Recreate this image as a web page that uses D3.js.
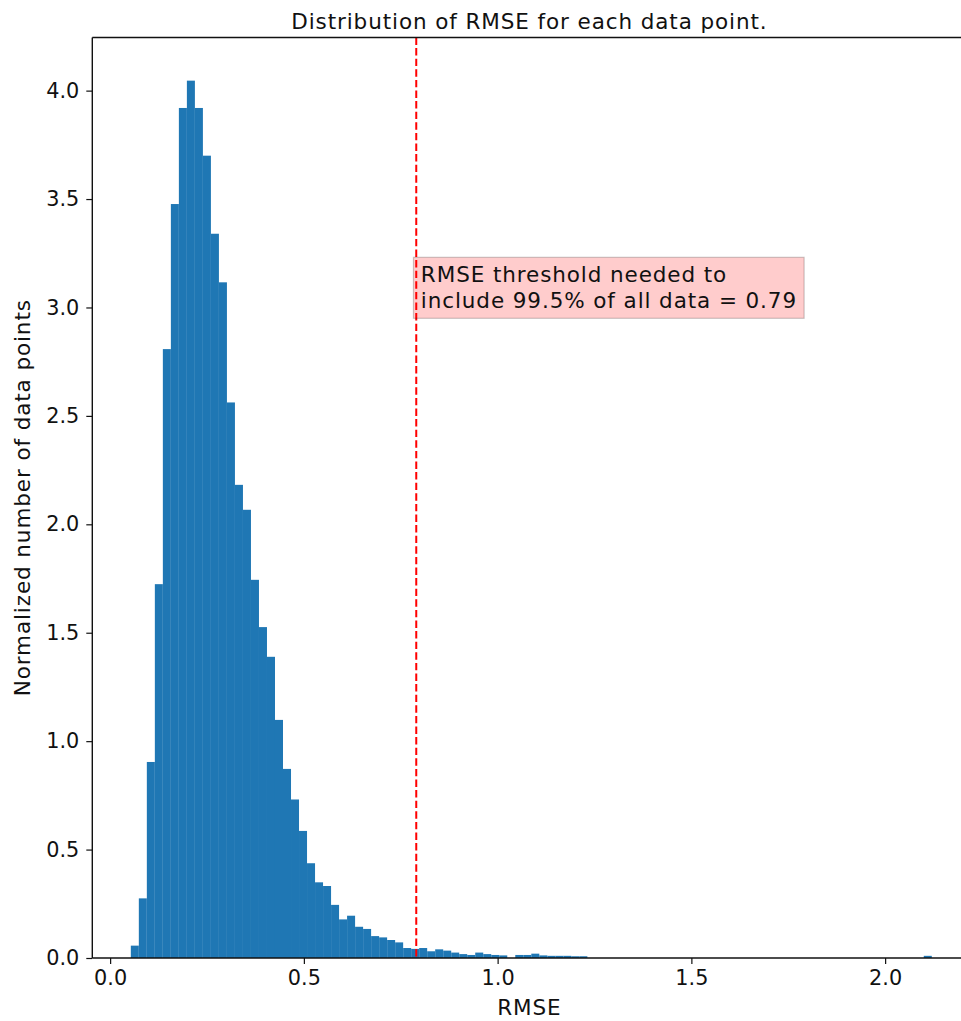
<!DOCTYPE html>
<html>
<head>
<meta charset="utf-8">
<script src="https://cdn.jsdelivr.net/npm/d3@7"></script>
<style>
  html, body { margin: 0; padding: 0; background: #fff; }
  svg { display: block; font-family: "DejaVu Sans", sans-serif; }
</style>
</head>
<body>
<svg id="chart" width="961" height="1021"></svg>
<script>
// Histogram of per-point RMSE (density-normalised), 100 equal-width bins
const binStart = 0.0534;
const binWidth = 0.02067;
const density = [
  0.057, 0.275, 0.904, 1.724, 2.808, 3.477, 3.920, 4.046, 3.920, 3.700,
  3.340, 3.116, 2.562, 2.182, 2.067, 1.744, 1.526, 1.389, 1.098, 0.872,
  0.731, 0.586, 0.437, 0.349, 0.332, 0.245, 0.178, 0.195, 0.144, 0.134,
  0.101, 0.095, 0.083, 0.072, 0.046, 0.042, 0.046, 0.031, 0.040, 0.034,
  0.025, 0.018, 0.014, 0.025, 0.018, 0.014, 0.012, 0.000, 0.014, 0.014,
  0.020, 0.012, 0.010, 0.010, 0.010, 0.008, 0.008, 0, 0, 0,
  0, 0, 0, 0, 0, 0, 0, 0, 0, 0,
  0, 0, 0, 0, 0, 0, 0, 0, 0, 0,
  0, 0, 0, 0, 0, 0, 0, 0, 0, 0,
  0, 0, 0, 0, 0, 0, 0, 0, 0, 0.010
];
const xTicks = [0.0, 0.5, 1.0, 1.5, 2.0];
const yTicks = [0.0, 0.5, 1.0, 1.5, 2.0, 2.5, 3.0, 3.5, 4.0];
const threshold = 0.79;
const noteLines = ["RMSE threshold needed to", "include 99.5% of all data = 0.79"];
const titleText = "Distribution of RMSE for each data point.";
const xLabelText = "RMSE";
const yLabelText = "Normalized number of data points";

const bins = density.map((v, i) => ({
  x0: binStart + i * binWidth,
  x1: binStart + (i + 1) * binWidth,
  value: v
}));

const svg = d3.select("#chart");
const plot = { left: 92.3, top: 37.5, right: 966.5, bottom: 958 };
const tickFont = 20.8;
const labelFont = 21.5;
const labelSpacing = "0.9px";
const ink = "#111";

const x = d3.scaleLinear().domain([-0.046, 2.21]).range([plot.left, plot.right]);
const y = d3.scaleLinear().domain([0, 4.245]).range([plot.bottom, plot.top]);

// clip marks to the plotting area
svg.append("clipPath").attr("id", "plotClip")
  .append("rect")
  .attr("x", plot.left).attr("y", plot.top)
  .attr("width", plot.right - plot.left).attr("height", plot.bottom - plot.top);

const marks = svg.append("g").attr("clip-path", "url(#plotClip)");

// histogram bars
marks.selectAll("rect.bar")
  .data(bins.filter(d => d.value > 0))
  .join("rect")
  .attr("class", "bar")
  .attr("x", d => x(d.x0))
  .attr("width", d => x(d.x1) - x(d.x0))
  .attr("y", d => y(d.value))
  .attr("height", d => y(0) - y(d.value))
  .attr("fill", "#1f77b4");

// threshold marker
marks.append("line")
  .attr("x1", x(threshold)).attr("x2", x(threshold))
  .attr("y1", plot.top).attr("y2", plot.bottom)
  .attr("stroke", "#ff0000")
  .attr("stroke-width", 2)
  .attr("stroke-dasharray", "7.4,3.2");

// axes
const xAxis = d3.axisBottom(x).tickValues(xTicks).tickFormat(d3.format(".1f"))
  .tickSize(6).tickPadding(6);
const yAxis = d3.axisLeft(y).tickValues(yTicks).tickFormat(d3.format(".1f"))
  .tickSize(6).tickPadding(7);

const gx = svg.append("g").attr("transform", `translate(0,${plot.bottom})`).call(xAxis);
const gy = svg.append("g").attr("transform", `translate(${plot.left},0)`).call(yAxis);
[gx, gy].forEach(g => {
  g.select(".domain").remove();
  g.selectAll(".tick line").attr("stroke", ink).attr("stroke-width", 1.2);
  g.selectAll(".tick text")
    .attr("fill", ink)
    .style("font-size", tickFont + "px")
    .style("font-family", "DejaVu Sans");
});

// spines (right one lies beyond the canvas edge)
const spine = svg.append("g").attr("stroke", ink).attr("stroke-width", 1.4).attr("fill", "none");
spine.append("line").attr("x1", plot.left).attr("x2", plot.left).attr("y1", plot.top).attr("y2", plot.bottom);
spine.append("line").attr("x1", plot.left).attr("x2", plot.right).attr("y1", plot.bottom).attr("y2", plot.bottom);
spine.append("line").attr("x1", plot.left).attr("x2", plot.right).attr("y1", plot.top).attr("y2", plot.top);
spine.append("line").attr("x1", plot.right).attr("x2", plot.right).attr("y1", plot.top).attr("y2", plot.bottom);

// annotation with translucent red box
const note = svg.append("g");
const noteText = note.append("text")
  .attr("x", x(threshold) + 4.6)
  .attr("y", 282.3)
  .attr("fill", ink)
  .style("font-size", labelFont + "px")
  .style("letter-spacing", labelSpacing);
noteText.selectAll("tspan")
  .data(noteLines)
  .join("tspan")
  .attr("x", x(threshold) + 4.6)
  .attr("dy", (d, i) => i === 0 ? 0 : 26)
  .text(d => d);
const bb = noteText.node().getBBox();
note.insert("rect", "text")
  .attr("x", bb.x - 7.4)
  .attr("y", bb.y - 5.0)
  .attr("width", bb.width + 14.5)
  .attr("height", bb.height + 10)
  .attr("fill", "rgba(255,0,0,0.2)")
  .attr("stroke", "rgba(0,0,0,0.2)")
  .attr("stroke-width", 1.2);

// title and axis labels
const cx = (plot.left + plot.right) / 2;
const labelStyle = sel => sel
  .attr("fill", ink)
  .attr("text-anchor", "middle")
  .style("font-size", labelFont + "px")
  .style("letter-spacing", labelSpacing);

svg.append("text")
  .attr("x", cx).attr("y", 29)
  .call(labelStyle)
  .text(titleText);

svg.append("text")
  .attr("x", cx).attr("y", 1015)
  .call(labelStyle)
  .text(xLabelText);

svg.append("text")
  .attr("transform", `translate(29.5,${(plot.top + plot.bottom) / 2}) rotate(-90)`)
  .call(labelStyle)
  .text(yLabelText);
</script>
</body>
</html>
